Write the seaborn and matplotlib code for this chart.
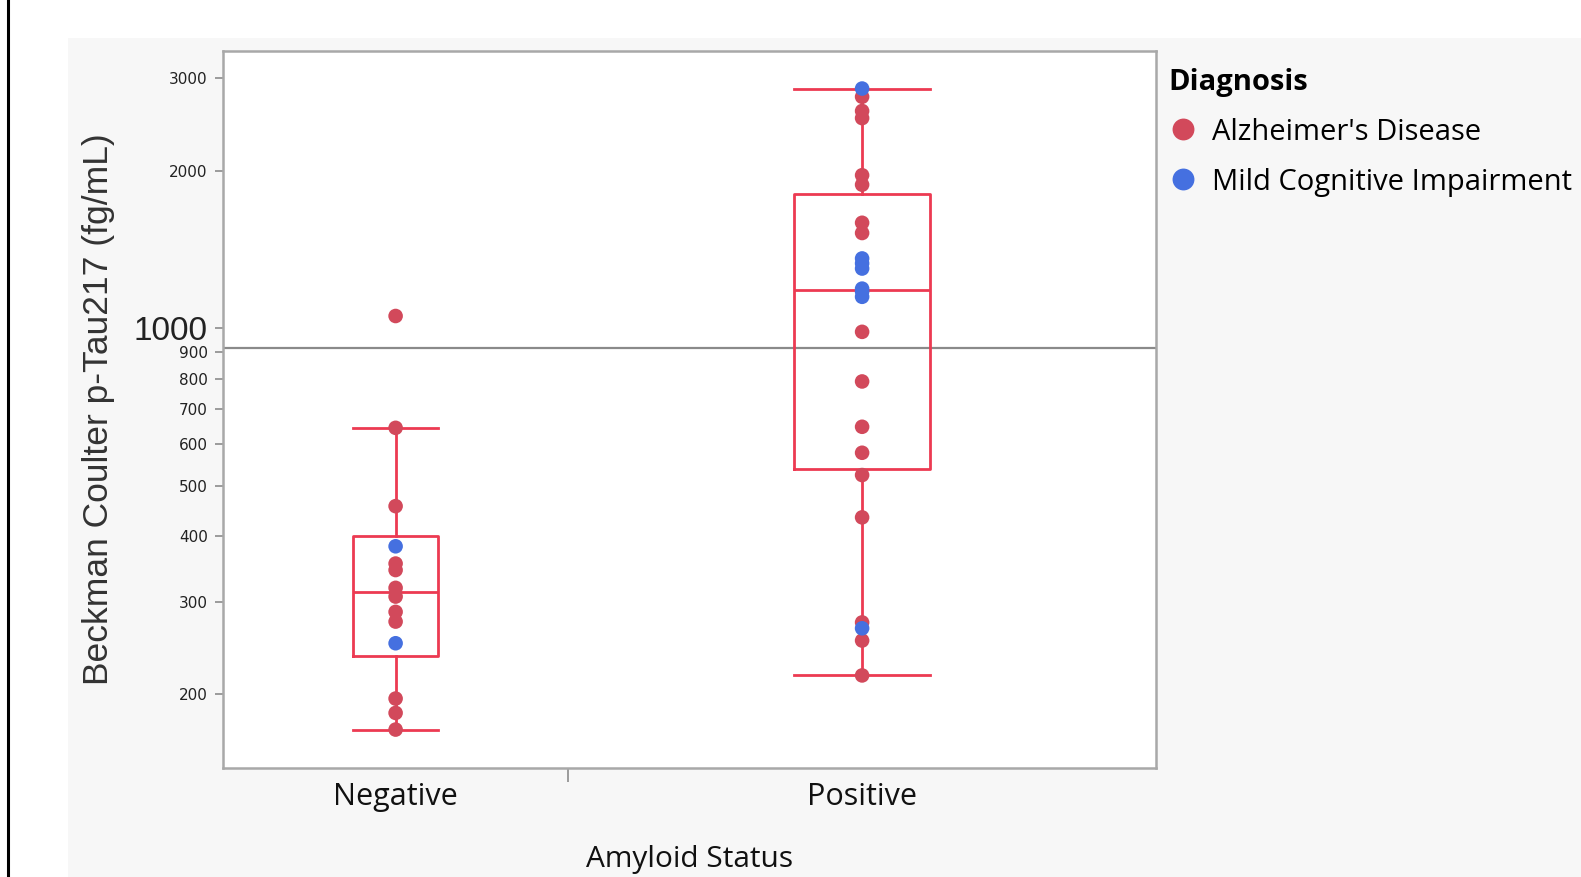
import numpy as np
import pandas as pd
import matplotlib.pyplot as plt
import matplotlib.patches as mpatches
import matplotlib.lines as mlines
import seaborn as sns

# values (fg/mL), split by amyloid status and diagnosis
neg_ad = [1055, 645, 457, 355, 345, 319, 307, 287, 275, 196, 184, 171]
neg_mci = [383, 250]
pos_ad = [2768, 2600, 2520, 1960, 1880, 1590, 1520, 984, 791, 648, 578, 524, 435, 274, 253, 217]
pos_mci = [2870, 1359, 1330, 1300, 1190, 1175, 1148, 267]

groups = ["Negative", "Positive"]
diagnoses = ["Alzheimer's Disease", "Mild Cognitive Impairment"]
cutoff = 915
yticks = [200, 300, 400, 500, 600, 700, 800, 900, 1000, 2000, 3000]

df = pd.DataFrame({
    "Amyloid Status": ["Negative"] * (len(neg_ad) + len(neg_mci)) + ["Positive"] * (len(pos_ad) + len(pos_mci)),
    "Diagnosis": [diagnoses[0]] * len(neg_ad) + [diagnoses[1]] * len(neg_mci)
                 + [diagnoses[0]] * len(pos_ad) + [diagnoses[1]] * len(pos_mci),
    "pTau217": neg_ad + neg_mci + pos_ad + pos_mci,
})

# JMP style quantiles ((n+1)p), whiskers to the last point inside 1.5 IQR
def box_stats(v):
    v = np.sort(np.asarray(v, dtype=float))
    q1, med, q3 = np.percentile(v, [25, 50, 75], method="weibull")
    iqr = q3 - q1
    return dict(med=med, q1=q1, q3=q3,
                whislo=v[v >= q1 - 1.5 * iqr].min(),
                whishi=v[v <= q3 + 1.5 * iqr].max(),
                fliers=[])

stats = [box_stats(df.loc[df["Amyloid Status"] == g, "pTau217"]) for g in groups]

red_dot = "#D2495B"
blue_dot = "#4570E0"
box_red = "#EC3A52"
font = ["Open Sans", "DejaVu Sans"]

fig = plt.figure(figsize=(15.81, 8.77), dpi=100)
fig.patches.append(mpatches.Rectangle((68 / 1581, 0), 1, 1 - 38 / 877, transform=fig.transFigure,
                                      facecolor="#F7F7F7", edgecolor="none", zorder=-5))
fig.lines.append(mlines.Line2D([8 / 1581, 8 / 1581], [0, 1], transform=fig.transFigure,
                               color="black", lw=2.2, zorder=-5))
ax = fig.add_axes([223 / 1581, 1 - 768 / 877, 933 / 1581, 717.3 / 877])
ax.set_facecolor("white")

boxprops = dict(color=box_red, lw=2)
ax.bxp(stats, positions=[0, 1], widths=[0.182, 0.292], capwidths=[0.182, 0.292],
       showfliers=False, manage_ticks=False,
       boxprops=boxprops, whiskerprops=boxprops, capprops=boxprops,
       medianprops=boxprops, zorder=2)

sns.stripplot(data=df, x="Amyloid Status", y="pTau217", hue="Diagnosis", order=groups,
              hue_order=diagnoses, palette=[red_dot, blue_dot], jitter=False,
              size=10.5, linewidth=0, ax=ax, zorder=3)

ax.axhline(cutoff, color="#8A8A8A", lw=1.6, zorder=1)

ax.set_yscale("log")
ax.set_ylim(144.4, 3390)
ax.set_xlim(-0.370, 1.630)

ax.set_yticks(yticks)
ax.yaxis.set_minor_locator(plt.NullLocator())
ax.set_yticklabels([str(t) for t in yticks], family=["Liberation Sans Narrow", "DejaVu Sans"],
                   fontsize=11, color="#222222")
for lab, t in zip(ax.get_yticklabels(), yticks):
    if t == 1000:
        lab.set_fontsize(24)
        lab.set_family(["Liberation Sans", "DejaVu Sans"])
ax.tick_params(axis="y", length=6, width=1.2, color="#8C8C8C", pad=5)

ax.set_xticks([0, 1])
ax.set_xticklabels(groups, family=font, fontsize=22, color="#111111")
ax.tick_params(axis="x", length=0, pad=10)
ax.set_xticks([0.37], minor=True)
ax.tick_params(axis="x", which="minor", length=10, width=1.2, color="#8C8C8C")

for s in ax.spines.values():
    s.set_color("#A8A8A8")
    s.set_linewidth(1.8)

ax.set_xlabel("Amyloid Status", family=font, fontsize=21.5, color="#111111")
ax.xaxis.set_label_coords(0.5, -0.128)
ax.xaxis.label.set_va("center")
ax.set_ylabel("Beckman Coulter p-Tau217 (fg/mL)", family=["Liberation Sans", "DejaVu Sans"],
              fontsize=25.5, color="#333333")
ax.yaxis.set_label_coords(-0.133, 0.5)
ax.yaxis.label.set_va("center")

leg = ax.legend(title="Diagnosis", loc="upper left", bbox_to_anchor=(1154 / 1581, 1 - 53 / 877),
                bbox_transform=fig.transFigure, frameon=False, borderpad=0, handletextpad=0.5,
                handlelength=1.0, labelspacing=0.72, markerscale=1.5,
                prop={"family": font, "size": 21})
leg.get_title().set_fontweight("bold")
leg.get_title().set_fontsize(21)
leg.get_title().set_family(font)
leg._legend_box.align = "left"

fig.savefig("out.png", dpi=100)
